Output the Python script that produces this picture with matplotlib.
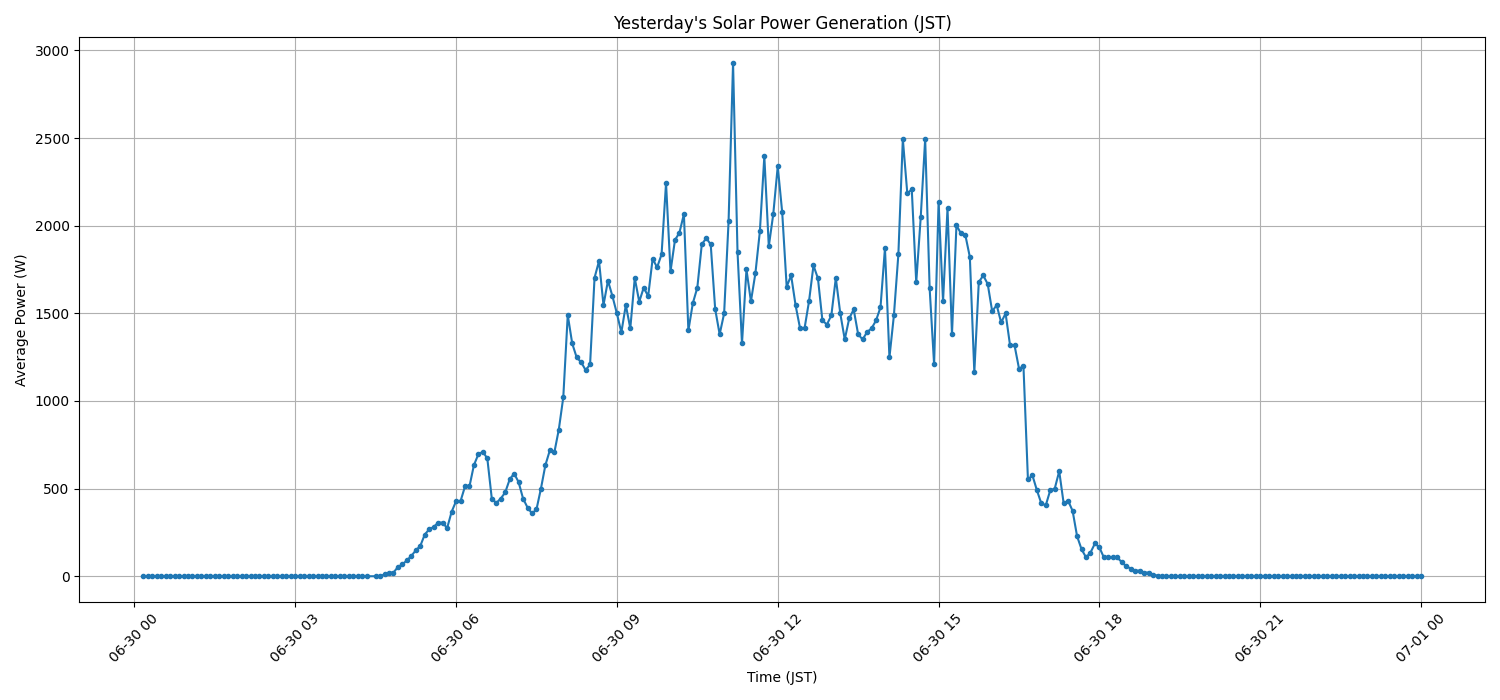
import pandas as pd
import matplotlib
matplotlib.use("Agg")
import matplotlib.pyplot as plt
import matplotlib.dates as mdates

# 5-minute samples, 06-30 00:10 .. 07-01 00:00 (04:25 is missing from the log)
times = pd.date_range("2024-06-30 00:10", "2024-07-01 00:00", freq="5min")
times = times[times != pd.Timestamp("2024-06-30 04:25")]

# average power (W), one row per hour
h00 = [0, 0, 0, 0, 0, 0, 0, 0, 0, 0]
h01 = [0, 0, 0, 0, 0, 0, 0, 0, 0, 0, 0, 0]
h02 = [0, 0, 0, 0, 0, 0, 0, 0, 0, 0, 0, 0]
h03 = [0, 0, 0, 0, 0, 0, 0, 0, 0, 0, 0, 0]
h04 = [0, 0, 0, 0, 0, 0, 0, 11, 21, 21, 53]
h05 = [67, 91, 116, 148, 173, 238, 268, 281, 306, 306, 274, 367]
h06 = [428, 428, 512, 512, 634, 696, 710, 672, 443, 418, 443, 478]
h07 = [552, 586, 537, 443, 392, 358, 381, 500, 634, 719, 706, 837]
h08 = [1020, 1490, 1328, 1248, 1221, 1176, 1208, 1703, 1798, 1547, 1686, 1598]
h09 = [1499, 1391, 1547, 1414, 1701, 1566, 1646, 1598, 1811, 1762, 1836, 2243]
h10 = [1739, 1918, 1960, 2066, 1402, 1558, 1646, 1893, 1929, 1893, 1524, 1380]
h11 = [1499, 2026, 2928, 1849, 1328, 1750, 1568, 1728, 1967, 2395, 1882, 2066]
h12 = [2338, 2076, 1652, 1716, 1545, 1414, 1414, 1568, 1773, 1699, 1459, 1436]
h13 = [1488, 1701, 1499, 1351, 1471, 1522, 1380, 1351, 1393, 1414, 1459, 1534]
h14 = [1872, 1248, 1488, 1836, 2494, 2184, 2207, 1676, 2047, 2494, 1642, 1208]
h15 = [2133, 1568, 2099, 1380, 2002, 1956, 1945, 1821, 1163, 1678, 1716, 1667]
h16 = [1511, 1547, 1448, 1499, 1317, 1317, 1185, 1197, 552, 576, 491, 415]
h17 = [405, 491, 500, 599, 415, 430, 373, 228, 154, 108, 135, 187]
h18 = [164, 107, 107, 107, 107, 80, 57, 44, 32, 32, 21, 21]
h19 = [8, 4, 0, 0, 0, 0, 0, 0, 0, 0, 0, 0]
h20 = [0, 0, 0, 0, 0, 0, 0, 0, 0, 0, 0, 0]
h21 = [0, 0, 0, 0, 0, 0, 0, 0, 0, 0, 0, 0]
h22 = [0, 0, 0, 0, 0, 0, 0, 0, 0, 0, 0, 0]
h23 = [0, 0, 0, 0, 0, 0, 0, 0, 0, 0, 0, 0]
h24 = [0]

power = (h00 + h01 + h02 + h03 + h04 + h05 + h06 + h07 + h08 + h09 + h10 + h11
         + h12 + h13 + h14 + h15 + h16 + h17 + h18 + h19 + h20 + h21 + h22 + h23 + h24)

df = pd.DataFrame({"time": times, "power": power})

fig, ax = plt.subplots(figsize=(15, 7), dpi=100)
ax.plot(df["time"], df["power"], marker="o", markersize=3)
ax.set_title("Yesterday's Solar Power Generation (JST)")
ax.set_xlabel("Time (JST)")
ax.set_ylabel("Average Power (W)")
ax.xaxis.set_major_locator(mdates.HourLocator(byhour=range(0, 24, 3)))
ax.xaxis.set_major_formatter(mdates.DateFormatter("%m-%d %H"))
plt.xticks(rotation=45)
ax.grid(True)
plt.tight_layout()
plt.savefig("out.png")
